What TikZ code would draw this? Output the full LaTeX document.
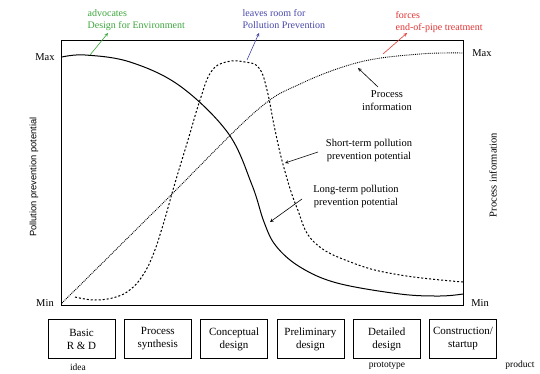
\documentclass[tikz,border=0pt]{standalone}
\usepackage{fontspec}
\setmainfont{Liberation Serif}
\setsansfont{Liberation Sans}
\usepackage{tikz}
\usepackage{xcolor}
\definecolor{envgreen}{RGB}{60,165,60}
\definecolor{roomblue}{RGB}{70,70,170}
\definecolor{pipered}{RGB}{225,50,50}
\tikzstyle{stage} = [rectangle, draw, minimum width=67pt, minimum height=39pt, align=center, font=\fontsize{11}{13}\selectfont]
\tikzstyle{note} = [align=center, font=\fontsize{10.5}{13}\selectfont]
\tikzstyle{hint} = [align=left, font=\fontsize{10}{11.5}\selectfont, anchor=north west]

\begin{document}
\begin{tikzpicture}[x=1pt,y=-1pt,>=stealth,semithick,node distance=76.3pt]
  \useasboundingbox (0,0) rectangle (540,374);
  % frame and axes
  \draw[thin] (61,40) rectangle (463,305);
  \node[note] (Max_l) at (45,57) {Max};
  \node[note] (Min_l) at (45,303) {Min};
  \node[note] (Max_r) at (482,53) {Max};
  \node[note] (Min_r) at (480,303) {Min};
  \node[rotate=90, font=\sffamily\fontsize{9.3}{11}\selectfont] (Achse_l) at (34,177) {Pollution prevention potential};
  \node[note, rotate=90] (Achse_r) at (493,175) {Process information};

  % curves
  \draw[line width=1pt] plot[smooth, tension=0.6] coordinates {(62,57) (85,55) (130,62) (180,86) (228,133) (252,185) (264,222) (276,246) (300,267) (337,283) (400,294) (440,296) (463,294)};
  \draw[line width=1pt, dash pattern=on 2pt off 2pt] plot[smooth, tension=0.7] coordinates {(75,297) (95,300) (116,297) (131,289) (143,275) (153,255) (163,225) (175,183) (188,140) (200,100) (211,72) (226,62) (245,62) (259,68) (267,90) (275,130) (284,168) (297,208) (314,242) (353,263) (400,275) (463,282)};
  \draw[line width=0.9pt, densely dotted] plot[smooth, tension=0.6] coordinates {(62,303) (165,201) (255,112) (300,84) (360,62) (420,54) (463,53)};

  % annotations on top
  \node[hint, text=envgreen] (DfE) at (84,6) {advocates\\Design for Environment};
  \node[hint, text=roomblue] (PP) at (239,6) {leaves room for\\Pollution Prevention};
  \node[hint, text=pipered] (EoP) at (392,8) {forces\\end-of-pipe treatment};
  \coordinate (DfE_fuss) at (90,55);
  \coordinate (DfE_kopf) at (108,33);
  \coordinate (PP_fuss) at (247,60);
  \coordinate (PP_kopf) at (259,33);
  \coordinate (EoP_fuss) at (383,54);
  \coordinate (EoP_kopf) at (407,33);
  \path[->, envgreen] (DfE_fuss) edge node {} (DfE_kopf);
  \path[->, roomblue] (PP_fuss) edge node {} (PP_kopf);
  \path[->, pipered] (EoP_fuss) edge node {} (EoP_kopf);

  % annotations inside
  \node[note] (Info) at (387,101) {Process\\information};
  \node[note] (Kurz) at (369,150) {Short-term pollution\\prevention potential};
  \node[note] (Lang) at (356,196) {Long-term pollution\\prevention potential};
  \coordinate (Info_kurve) at (358,68);
  \coordinate (Info_start) at (378,87);
  \coordinate (Kurz_kurve) at (285,163);
  \coordinate (Kurz_start) at (318,152);
  \coordinate (Lang_kurve) at (270,222);
  \coordinate (Lang_start) at (302,199);
  \path[->] (Info_start) edge node {} (Info_kurve);
  \path[->] (Kurz_start) edge node {} (Kurz_kurve);
  \path[->] (Lang_start) edge node {} (Lang_kurve);

  % design stages
  \node[stage] (RD) at (81.5,339) {Basic\\R \& D};
  \node[stage] (Synthese) [right of=RD] {Process\\synthesis};
  \node[stage] (Konzept) [right of=Synthese] {Conceptual\\design};
  \node[stage] (Vorentwurf) [right of=Konzept] {Preliminary\\design};
  \node[stage] (Detail) [right of=Vorentwurf] {Detailed\\design};
  \node[stage] (Bau) [right of=Detail] {Construction/\\startup};
  \node[note, font=\fontsize{9.5}{11}\selectfont] (Idee) at (78,367) {idea};
  \node[note, font=\fontsize{9.5}{11}\selectfont] (Prototyp) at (387,366) {prototype};
  \node[note, font=\fontsize{9.5}{11}\selectfont] (Produkt) at (520,365) {product};
\end{tikzpicture}
\end{document}
